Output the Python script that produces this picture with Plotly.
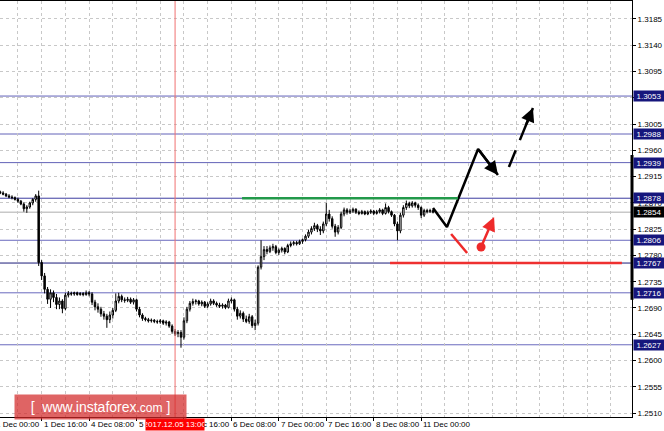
import plotly.graph_objects as go

# ---------------- data (GBP/USD H1, bar index 0 = 1 Dec 00:00) ----------------
bar_index = list(range(2, 149))
opens = [1.2889, 1.2887, 1.2885, 1.2882, 1.2880, 1.2879, 1.2876, 1.2873, 1.2868, 1.2860,
         1.2863, 1.2870, 1.2876, 1.2882, 1.2768, 1.2745, 1.2722, 1.2705, 1.2716, 1.2708,
         1.2696, 1.2702, 1.2689, 1.2712, 1.2715, 1.2714, 1.2716, 1.2713, 1.2715, 1.2713,
         1.2716, 1.2714, 1.2700, 1.2692, 1.2688, 1.2680, 1.2676, 1.2670, 1.2678, 1.2686,
         1.2702, 1.2710, 1.2704, 1.2703, 1.2705, 1.2700, 1.2704, 1.2688, 1.2678, 1.2672,
         1.2670, 1.2668, 1.2669, 1.2667, 1.2666, 1.2668, 1.2664, 1.2666, 1.2659, 1.2650,
         1.2646, 1.2648, 1.2640, 1.2668, 1.2688, 1.2698, 1.2701, 1.2702, 1.2697, 1.2700,
         1.2693, 1.2697, 1.2702, 1.2698, 1.2695, 1.2693, 1.2695, 1.2691, 1.2702, 1.2704,
         1.2688, 1.2676, 1.2681, 1.2671, 1.2667, 1.2675, 1.2660, 1.2664, 1.2760, 1.2778,
         1.2790, 1.2787, 1.2793, 1.2795, 1.2785, 1.2789, 1.2792, 1.2786, 1.2797, 1.2800,
         1.2802, 1.2800, 1.2804, 1.2807, 1.2813, 1.2820, 1.2826, 1.2831, 1.2825, 1.2822,
         1.2834, 1.2851, 1.2843, 1.2830, 1.2820, 1.2828, 1.2851, 1.2858, 1.2854, 1.2856,
         1.2859, 1.2854, 1.2852, 1.2855, 1.2851, 1.2854, 1.2856, 1.2852, 1.2855, 1.2858,
         1.2852, 1.2862, 1.2855, 1.2849, 1.2834, 1.2822, 1.2849, 1.2862, 1.2869, 1.2865,
         1.2870, 1.2866, 1.2862, 1.2849, 1.2857, 1.2855, 1.2857]
highs = [1.2891, 1.2890, 1.2887, 1.2885, 1.2883, 1.2881, 1.2879, 1.2875, 1.2871, 1.2866,
         1.2872, 1.2878, 1.2885, 1.2891, 1.2772, 1.2750, 1.2726, 1.2722, 1.2720, 1.2714,
         1.2708, 1.2705, 1.2716, 1.2719, 1.2718, 1.2718, 1.2718, 1.2717, 1.2717, 1.2720,
         1.2719, 1.2717, 1.2704, 1.2698, 1.2692, 1.2685, 1.2680, 1.2684, 1.2690, 1.2715,
         1.2716, 1.2713, 1.2708, 1.2709, 1.2708, 1.2707, 1.2706, 1.2692, 1.2681, 1.2675,
         1.2673, 1.2672, 1.2671, 1.2670, 1.2671, 1.2670, 1.2669, 1.2668, 1.2662, 1.2654,
         1.2652, 1.2652, 1.2674, 1.2692, 1.2702, 1.2706, 1.2705, 1.2704, 1.2703, 1.2702,
         1.2700, 1.2706, 1.2705, 1.2701, 1.2699, 1.2698, 1.2697, 1.2706, 1.2708, 1.2706,
         1.2692, 1.2686, 1.2684, 1.2677, 1.2680, 1.2678, 1.2670, 1.2763, 1.2806, 1.2796,
         1.2796, 1.2797, 1.2800, 1.2798, 1.2792, 1.2795, 1.2794, 1.2800, 1.2804, 1.2805,
         1.2805, 1.2807, 1.2809, 1.2816, 1.2824, 1.2830, 1.2836, 1.2834, 1.2830, 1.2838,
         1.2870, 1.2858, 1.2847, 1.2834, 1.2832, 1.2855, 1.2862, 1.2861, 1.2860, 1.2862,
         1.2861, 1.2857, 1.2858, 1.2857, 1.2857, 1.2859, 1.2858, 1.2858, 1.2861, 1.2860,
         1.2869, 1.2865, 1.2857, 1.2851, 1.2838, 1.2853, 1.2866, 1.2874, 1.2872, 1.2873,
         1.2872, 1.2869, 1.2864, 1.2860, 1.2860, 1.2860, 1.2859]
lows = [1.2885, 1.2883, 1.2880, 1.2878, 1.2876, 1.2874, 1.2870, 1.2866, 1.2855, 1.2853,
        1.2860, 1.2866, 1.2872, 1.2762, 1.2738, 1.2715, 1.2697, 1.2690, 1.2700, 1.2688,
        1.2688, 1.2681, 1.2686, 1.2708, 1.2711, 1.2711, 1.2711, 1.2711, 1.2710, 1.2711,
        1.2710, 1.2695, 1.2686, 1.2682, 1.2675, 1.2670, 1.2656, 1.2664, 1.2672, 1.2683,
        1.2698, 1.2700, 1.2699, 1.2700, 1.2697, 1.2696, 1.2684, 1.2674, 1.2668, 1.2667,
        1.2665, 1.2665, 1.2664, 1.2663, 1.2663, 1.2661, 1.2660, 1.2656, 1.2646, 1.2642,
        1.2640, 1.2622, 1.2636, 1.2664, 1.2684, 1.2694, 1.2696, 1.2694, 1.2693, 1.2690,
        1.2690, 1.2694, 1.2695, 1.2692, 1.2690, 1.2689, 1.2688, 1.2689, 1.2698, 1.2684,
        1.2670, 1.2672, 1.2666, 1.2664, 1.2663, 1.2656, 1.2652, 1.2660, 1.2756, 1.2772,
        1.2782, 1.2784, 1.2788, 1.2782, 1.2781, 1.2785, 1.2782, 1.2784, 1.2794, 1.2797,
        1.2797, 1.2798, 1.2800, 1.2804, 1.2810, 1.2816, 1.2822, 1.2820, 1.2815, 1.2818,
        1.2830, 1.2838, 1.2826, 1.2812, 1.2816, 1.2825, 1.2847, 1.2850, 1.2851, 1.2853,
        1.2851, 1.2849, 1.2850, 1.2849, 1.2849, 1.2851, 1.2849, 1.2850, 1.2852, 1.2849,
        1.2850, 1.2852, 1.2846, 1.2830, 1.2806, 1.2818, 1.2845, 1.2858, 1.2861, 1.2862,
        1.2862, 1.2858, 1.2844, 1.2846, 1.2852, 1.2853, 1.2852]
closes = [1.2887, 1.2885, 1.2882, 1.2880, 1.2879, 1.2876, 1.2873, 1.2868, 1.2860, 1.2863,
          1.2870, 1.2876, 1.2882, 1.2768, 1.2745, 1.2722, 1.2705, 1.2716, 1.2708, 1.2696,
          1.2702, 1.2689, 1.2712, 1.2715, 1.2714, 1.2716, 1.2713, 1.2715, 1.2713, 1.2716,
          1.2714, 1.2700, 1.2692, 1.2688, 1.2680, 1.2676, 1.2670, 1.2678, 1.2686, 1.2702,
          1.2710, 1.2704, 1.2703, 1.2705, 1.2700, 1.2704, 1.2688, 1.2678, 1.2672, 1.2670,
          1.2668, 1.2669, 1.2667, 1.2666, 1.2668, 1.2664, 1.2666, 1.2659, 1.2650, 1.2646,
          1.2648, 1.2640, 1.2668, 1.2688, 1.2698, 1.2701, 1.2702, 1.2697, 1.2700, 1.2693,
          1.2697, 1.2702, 1.2698, 1.2695, 1.2693, 1.2695, 1.2691, 1.2702, 1.2704, 1.2688,
          1.2676, 1.2681, 1.2671, 1.2667, 1.2675, 1.2660, 1.2664, 1.2760, 1.2778, 1.2790,
          1.2787, 1.2793, 1.2795, 1.2785, 1.2789, 1.2792, 1.2786, 1.2797, 1.2800, 1.2802,
          1.2800, 1.2804, 1.2807, 1.2813, 1.2820, 1.2826, 1.2831, 1.2825, 1.2822, 1.2834,
          1.2851, 1.2843, 1.2830, 1.2820, 1.2828, 1.2851, 1.2858, 1.2854, 1.2856, 1.2859,
          1.2854, 1.2852, 1.2855, 1.2851, 1.2854, 1.2856, 1.2852, 1.2855, 1.2858, 1.2852,
          1.2862, 1.2855, 1.2849, 1.2834, 1.2822, 1.2849, 1.2862, 1.2869, 1.2865, 1.2870,
          1.2866, 1.2862, 1.2849, 1.2857, 1.2855, 1.2857, 1.2854]

ytick_vals = [1.3185, 1.3140, 1.3095, 1.3050, 1.3005, 1.2960, 1.2915, 1.2870,
              1.2825, 1.2780, 1.2735, 1.2690, 1.2645, 1.2600, 1.2555, 1.2510]
level_values = [1.3053, 1.2988, 1.2939, 1.2878, 1.2806, 1.2767, 1.2716, 1.2627]
level_colors = ["#6262B8", "#6262B8", "#6262B8", "#3C3CA0", "#6A6ABE", "#1C1C78", "#6A6ABE", "#6A6ABE"]
last_price = 1.2854

xtick_index = [0, 16, 32, 48, 64, 80, 96, 112, 128, 144]
xtick_labels = ["1 Dec 00:00", "1 Dec 16:00", "4 Dec 08:00", "5 Dec 00:00", "5 Dec 16:00",
                "6 Dec 08:00", "7 Dec 00:00", "7 Dec 16:00", "8 Dec 08:00", "11 Dec 00:00"]
marker_index = 61
marker_label = "2017.12.05 13:00"

green_level = 1.2878
green_span = [83.6, 156.4]
red_level = 1.2767
red_span = [133.5, 211.7]

# forecast scenario sketch (bar index, price)
path_x = [148.0, 152.7, 163.2, 169.9]
path_y = [1.28613, 1.28287, 1.29623, 1.29178]
dash_x = [173.6, 181.7]
dash_y = [1.29315, 1.30326]
red_seg_x = [154.1, 159.5]
red_seg_y = [1.28167, 1.27842]
red_dot_x, red_dot_y = 164.2, 1.27945
red_tip_x, red_tip_y = 168.6, 1.28458

X_RANGE = [1.956, 215.11]
Y_RANGE = [1.25033, 1.32158]
FONT = "Arial, Liberation Sans, sans-serif"
NAVY = "#16167C"

fig = go.Figure()

fig.add_trace(go.Candlestick(
    x=bar_index, open=opens, high=highs, low=lows, close=closes,
    increasing=dict(line=dict(color="black", width=1), fillcolor="white"),
    decreasing=dict(line=dict(color="black", width=1), fillcolor="black"),
    whiskerwidth=0, showlegend=False, hoverinfo="skip"))

# forecast lines
fig.add_trace(go.Scatter(x=path_x, y=path_y, mode="lines",
                         line=dict(color="black", width=2.5), showlegend=False, hoverinfo="skip"))
fig.add_trace(go.Scatter(x=dash_x, y=dash_y, mode="lines",
                         line=dict(color="black", width=2.5, dash="18px,11px,60px"),
                         showlegend=False, hoverinfo="skip"))
fig.add_trace(go.Scatter(x=red_seg_x, y=red_seg_y, mode="lines",
                         line=dict(color="#EE2A2A", width=2.5), showlegend=False, hoverinfo="skip"))
fig.add_trace(go.Scatter(x=[red_dot_x], y=[red_dot_y], mode="markers",
                         marker=dict(color="#EE2A2A", size=9), showlegend=False, hoverinfo="skip"))

shapes = []
for v, c in zip(level_values, level_colors):
    shapes.append(dict(type="line", xref="paper", x0=0, x1=1, yref="y", y0=v, y1=v,
                       line=dict(color=c, width=1), layer="below"))
shapes.append(dict(type="line", xref="paper", x0=0, x1=1, yref="y", y0=last_price, y1=last_price,
                   line=dict(color="#C8C8C8", width=1.5), layer="below"))
shapes.append(dict(type="line", xref="x", x0=green_span[0], x1=green_span[1], yref="y",
                   y0=green_level, y1=green_level, line=dict(color="#22994A", width=2.5)))
shapes.append(dict(type="line", xref="x", x0=red_span[0], x1=red_span[1], yref="y",
                   y0=red_level, y1=red_level, line=dict(color="#EE3030", width=2.5)))
# red time marker
shapes.append(dict(type="line", xref="x", x0=marker_index, x1=marker_index, yref="paper",
                   y0=0, y1=1, line=dict(color="#F07070", width=1)))
# thick price-scale segment
shapes.append(dict(type="line", xref="paper", x0=1, x1=1, yref="y", y0=1.2704, y1=1.2952,
                   line=dict(color="black", width=3)))

annotations = []
# arrow heads
annotations.append(dict(x=path_x[3], y=path_y[3], ax=path_x[2], ay=path_y[2], xref="x", yref="y",
                        axref="x", ayref="y", showarrow=True, arrowhead=2, arrowsize=1.1,
                        arrowwidth=2.5, arrowcolor="black", text="", standoff=0))
annotations.append(dict(x=dash_x[1], y=dash_y[1], ax=dash_x[1] - (dash_x[1] - dash_x[0]) * 0.3,
                        ay=dash_y[1] - (dash_y[1] - dash_y[0]) * 0.3, xref="x", yref="y",
                        axref="x", ayref="y", showarrow=True, arrowhead=2, arrowsize=1.1,
                        arrowwidth=2.5, arrowcolor="black", text="", standoff=0))
annotations.append(dict(x=red_tip_x, y=red_tip_y, ax=red_dot_x, ay=red_dot_y, xref="x", yref="y",
                        axref="x", ayref="y", showarrow=True, arrowhead=2, arrowsize=1.1,
                        arrowwidth=2.5, arrowcolor="#EE2A2A", text="", standoff=0))

# level labels on price scale
for v in level_values:
    annotations.append(dict(xref="paper", x=1, xanchor="left", xshift=1, yref="y", y=v,
                            yanchor="middle", text=f"{v:.4f}", showarrow=False,
                            bgcolor=NAVY, font=dict(color="white", size=8, family=FONT),
                            borderpad=0, width=30, height=10))
annotations.append(dict(xref="paper", x=1, xanchor="left", xshift=1, yref="y", y=last_price,
                        yanchor="middle", text=f"{last_price:.4f}", showarrow=False,
                        bgcolor="black", font=dict(color="white", size=8, family=FONT),
                        borderpad=0, width=30, height=10))


def to_paper(i):
    return (i - X_RANGE[0]) / (X_RANGE[1] - X_RANGE[0])


# time labels (left-aligned at their tick, as in the terminal)
for i, lab in zip(xtick_index, xtick_labels):
    annotations.append(dict(xref="paper", x=to_paper(i), xanchor="left", yref="paper", y=0,
                            yanchor="top", yshift=-1, text=lab, showarrow=False,
                            font=dict(color="black", size=8, family=FONT)))
annotations.append(dict(xref="paper", x=to_paper(marker_index), xanchor="center", yref="paper",
                        y=0, yanchor="top", yshift=-1, text=marker_label, showarrow=False,
                        bgcolor="#FF0000", font=dict(color="white", size=8, family=FONT),
                        borderpad=0, width=58, height=11))

# watermark
annotations.append(dict(xref="paper", x=14 / 632, xanchor="left", yref="paper", y=23 / 416,
                        yanchor="top", showarrow=False,
                        text="[  www.instaforex<span style='font-size:12px'>.com</span> ]",
                        bgcolor="rgba(210,40,40,0.72)", width=169, height=22,
                        font=dict(color="white", size=14, family=FONT)))

fig.update_layout(
    width=664, height=431,
    margin=dict(l=0, r=32, t=1, b=14),
    paper_bgcolor="white", plot_bgcolor="white",
    font=dict(family=FONT, size=8, color="black"),
    shapes=shapes, annotations=annotations, showlegend=False,
    xaxis=dict(range=X_RANGE, rangeslider=dict(visible=False),
               tickmode="array", tickvals=xtick_index, showticklabels=False,
               ticks="outside", ticklen=3, tickcolor="black",
               showgrid=True, gridcolor="#C8C8C8", griddash="3px,3px", gridwidth=1,
               minor=dict(tick0=0, dtick=8, showgrid=True, gridcolor="#C8C8C8",
                          griddash="3px,3px", gridwidth=1),
               showline=True, linecolor="black", linewidth=1, mirror=True, zeroline=False),
    yaxis=dict(range=Y_RANGE, side="right", tickmode="array", tickvals=ytick_vals,
               ticktext=[f"{v:.4f}" for v in ytick_vals],
               ticks="outside", ticklen=3, tickcolor="black",
               tickfont=dict(size=8, family=FONT, color="black"),
               showgrid=True, gridcolor="#C8C8C8", griddash="3px,3px", gridwidth=1,
               showline=True, linecolor="black", linewidth=1, zeroline=False),
)

fig.write_html("out.html", config={"displayModeBar": False},
               post_script="document.body.style.margin='0';document.body.style.overflow='hidden';")
